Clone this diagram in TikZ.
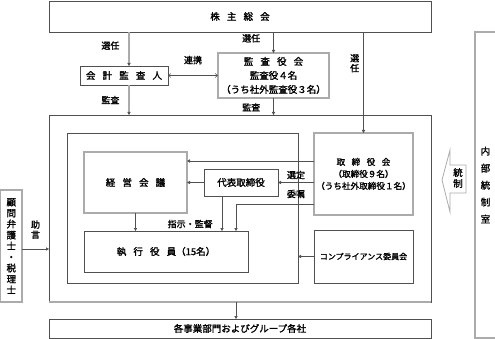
\documentclass[tikz,border=0pt]{standalone}
\usepackage{fontspec}
\setmainfont{Noto Sans CJK JP}[BoldFont=*, BoldFeatures={FakeBold=1.6}]
\usetikzlibrary{arrows.meta}
\definecolor{dline}{HTML}{505050}
\definecolor{lline}{HTML}{ABABAB}
\newcommand{\sgap}{\hspace{0.75em}}
\newcommand{\boxfont}{\fontsize{9.5}{14}\selectfont\bfseries}
\begin{document}
\begin{tikzpicture}[x=1pt,y=-1pt,
    box/.style={draw=dline, line width=0.6pt, inner sep=0pt, outer sep=0pt, font=\boxfont, align=center},
    gbox/.style={box, draw=lline, line width=1.2pt},
    arr/.style={draw=dline, line width=0.6pt, -{Triangle[length=3pt,width=3.2pt,color=dline]}},
    garr/.style={arr, draw=lline, line width=1.2pt},
    lbl/.style={inner sep=1pt, font=\fontsize{9}{10}\selectfont\bfseries, align=center},
  ]
  \useasboundingbox (0,0) rectangle (495,339);
  % frames
  \node[box, minimum width=382, minimum height=187] (outer) at (240,208.5) {};
  \draw[lline, line width=1.2pt] (outer.south west) -- (outer.south east);
  \node[box, minimum width=231, minimum height=150] (inner) at (182.5,208) {};
  % boxes
  \node[box, minimum width=382, minimum height=31] (soukai) at (240,16.5) {株\sgap 主\sgap 総\sgap 会};
  \node[box, minimum width=88, minimum height=19] (kansa) at (124,75.5) {会\sgap 計\sgap 監\sgap 査\sgap 人};
  \node[gbox, minimum width=111, minimum height=45] (kansayaku) at (273.5,75.5)
    {監\sgap 査\sgap 役\sgap 会\\監査役４名\\（うち社外監査役３名）};
  \node[gbox, minimum width=99, minimum height=82, font=\fontsize{8.6}{12}\selectfont\bfseries] (torishimari) at (363.5,174)
    {取\sgap 締\sgap 役\sgap 会\\（取締役９名）\\（うち社外取締役１名）};
  \node[gbox, minimum width=103, minimum height=61] (keiei) at (135.5,182.5) {経\sgap 営\sgap 会\sgap 議};
  \node[box, minimum width=74, minimum height=27] (daihyo) at (241,182.5) {代表取締役};
  \node[box, minimum width=164, minimum height=41] (shikko) at (166,251.5) {執\sgap 行\sgap 役\sgap 員（15名）};
  \node[box, minimum width=99, minimum height=53, font=\fontsize{8}{10}\selectfont\bfseries] (comp) at (363.5,256.5) {コンプライアンス委員会};
  \node[box, minimum width=382, minimum height=19] (jigyo) at (240,328.5) {各事業部門およびグループ各社};
  \node[gbox, minimum width=21.4, minimum height=112, font=\fontsize{9.5}{11}\selectfont\bfseries] (komon) at (11.3,246)
    {顧\\問\\弁\\護\\士\\・\\税\\理\\士};
  \node[gbox, minimum width=21, minimum height=306, font=\fontsize{9.5}{17}\selectfont\bfseries] (naibu) at (485.5,185)
    {内\\部\\統\\制\\室};
  % block arrow
  \draw[lline, line width=0.8pt] (466,165) -- (450,165) -- (450,150) -- (442,180)
    -- (450,212) -- (450,193) -- (466,193) -- cycle;
  \node[lbl, font=\fontsize{9.5}{11}\selectfont\bfseries] (tousei) at (458,178) {統\\制};
  % offsets
  \coordinate (k1) at ([xshift=5pt]kansa.north);
  \coordinate (k2) at ([xshift=5pt]kansa.south);
  \coordinate (t1) at ([yshift=13pt]torishimari.west);
  \coordinate (t2) at ([yshift=-30pt]torishimari.west);
  \coordinate (d1) at ([xshift=-19pt]daihyo.south);
  \coordinate (s1) at ([xshift=70pt]shikko.north);
  \coordinate (j1) at ([xshift=-4pt]jigyo.north);
  \coordinate (c1) at ([yshift=-3pt]komon.east);
  % connectors
  \draw[garr] (soukai.south -| k1) -- node[lbl, pos=0.4, left=8pt] {選任} (k1);
  \draw[arr] (soukai.south -| kansayaku.north) -- node[lbl, pos=0.3, left=12pt] {選任} (kansayaku.north);
  \draw[arr] (soukai.south -| torishimari.north) -- node[lbl, pos=0.31, left=3pt] {選\\任} (torishimari.north);
  \draw[draw=dline, line width=0.5pt, {Straight Barb[length=2.5pt,width=4pt]}-{Straight Barb[length=2.5pt,width=4pt]}]
    (kansa.east) -- node[lbl, above=10pt] {連携} (kansayaku.west);
  \draw[garr] (k2) -- node[lbl, left=8pt] {監査} (k2 |- outer.north);
  \draw[arr] (kansayaku.south) -- node[lbl, pos=0.55, left=12pt] {監査} (kansayaku.south |- outer.north);
  \draw[arr] (t1) -- (t1 -| keiei.east);
  \draw[arr] (daihyo.west) -- (daihyo.west -| keiei.east);
  \draw[arr] (torishimari.west |- daihyo.east) -- node[lbl, above=2pt] {選定}
    node[lbl, below=6pt] {委嘱} (daihyo.east);
  \draw[arr] (d1) -- node[lbl, pos=0.8, left=8pt] {指示・監督} (d1 |- shikko.north);
  \draw[arr] (t2) -| (s1);
  \draw[arr] (keiei.south) -- (keiei.south |- shikko.north);
  \draw[arr] (comp.west) -- (comp.west -| inner.east);
  \draw[arr] (j1 |- outer.south) -- (j1);
  \draw[arr] (c1) -- node[lbl, above=9pt] {助\\言} (c1 -| outer.west);
\end{tikzpicture}
\end{document}
